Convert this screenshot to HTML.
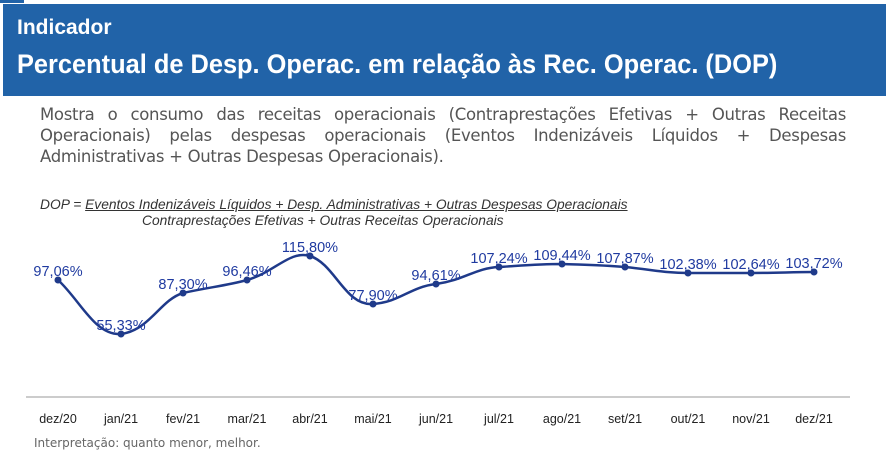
<!DOCTYPE html>
<html><head><meta charset="utf-8"><style>
html,body{margin:0;padding:0;width:886px;height:475px;overflow:hidden;background:#fff;font-family:"Liberation Sans",sans-serif}
.hdr{position:absolute;left:3px;top:4px;width:883px;height:92px;background:#2163a8;color:#fff}
.h1{position:absolute;left:14px;top:12px;font-size:21px;font-weight:bold}
.h2{position:absolute;left:14px;top:45px;font-size:27px;font-weight:bold;transform:scaleX(0.94);transform-origin:0 0;white-space:nowrap}
.desc{position:absolute;left:40px;top:104px;width:806px;font-size:16.5px;line-height:21px;color:#555;text-align:justify;font-family:"DejaVu Sans",sans-serif;letter-spacing:-0.3px}
.f{position:absolute;font-style:italic;font-size:13.8px;color:#333;white-space:nowrap}
</style></head><body>
<div style="position:absolute;left:0;top:0;width:24px;height:3px;background:#2163a8"></div>
<div class="hdr"><div class="h1">Indicador</div><div class="h2">Percentual de Desp. Operac. em relação às Rec. Operac. (DOP)</div></div>
<div class="desc">Mostra o consumo das receitas operacionais (Contraprestações Efetivas + Outras Receitas Operacionais) pelas despesas operacionais (Eventos Indenizáveis Líquidos + Despesas Administrativas + Outras Despesas Operacionais).</div>
<div class="f" style="left:40px;top:197px">DOP = <u>Eventos Indenizáveis Líquidos + Desp. Administrativas + Outras Despesas Operacionais</u></div>
<div class="f" style="left:142px;top:213px">Contraprestações Efetivas + Outras Receitas Operacionais</div>
<svg width="886" height="475" style="position:absolute;left:0;top:0" font-family="Liberation Sans,sans-serif">
<path d="M58,280 C80,300 95,336 121,334 C150,330 160,300 183,293 C210,287 225,286 247,280 C275,272 290,250 310,256 C335,264 345,306 373,304 C400,302 410,287 436,284 C465,280 475,268 499,267 C530,265 540,264 562,264 C590,265 600,265 625,267 C655,270 665,273 688,273 L751,273 C780,273 790,272 814,272" fill="none" stroke="#1f3a8a" stroke-width="2.5"/>
<g fill="#1f3a8a">
<circle cx="58" cy="280" r="3.5"/><circle cx="121" cy="334" r="3.5"/><circle cx="183" cy="293" r="3.5"/><circle cx="247" cy="280" r="3.5"/><circle cx="310" cy="256" r="3.5"/><circle cx="373" cy="304" r="3.5"/><circle cx="436" cy="284" r="3.5"/><circle cx="499" cy="267" r="3.5"/><circle cx="562" cy="264" r="3.5"/><circle cx="625" cy="267" r="3.5"/><circle cx="688" cy="273" r="3.5"/><circle cx="751" cy="273" r="3.5"/><circle cx="814" cy="272" r="3.5"/>
</g>
<g fill="#1f3aa0" font-size="14.5" text-anchor="middle">
<text x="58" y="276">97,06%</text><text x="121" y="330">55,33%</text><text x="183" y="289">87,30%</text><text x="247" y="276">96,46%</text><text x="310" y="252">115,80%</text><text x="373" y="300">77,90%</text><text x="436" y="280">94,61%</text><text x="499" y="263">107,24%</text><text x="562" y="260">109,44%</text><text x="625" y="263">107,87%</text><text x="688" y="269">102,38%</text><text x="751" y="269">102,64%</text><text x="814" y="268">103,72%</text>
</g>
<line x1="26" y1="397" x2="850" y2="397" stroke="#ccc" stroke-width="2"/>
<g fill="#222" font-size="12.5" text-anchor="middle">
<text x="58" y="423">dez/20</text><text x="121" y="423">jan/21</text><text x="183" y="423">fev/21</text><text x="247" y="423">mar/21</text><text x="310" y="423">abr/21</text><text x="373" y="423">mai/21</text><text x="436" y="423">jun/21</text><text x="499" y="423">jul/21</text><text x="562" y="423">ago/21</text><text x="625" y="423">set/21</text><text x="688" y="423">out/21</text><text x="751" y="423">nov/21</text><text x="814" y="423">dez/21</text>
</g>
<text x="34" y="447" font-size="12" fill="#666" font-family="DejaVu Sans,sans-serif">Interpretação: quanto menor, melhor.</text>
</svg>
</body></html>
